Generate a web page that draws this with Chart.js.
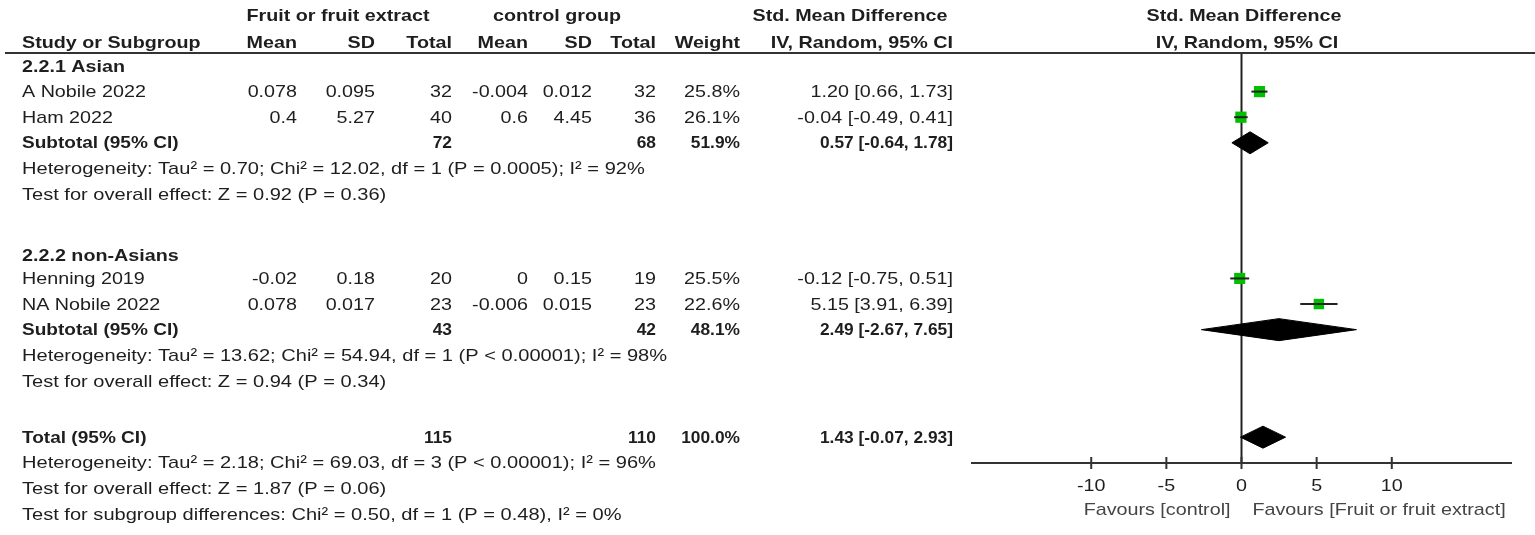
<!DOCTYPE html>
<html>
<head>
<meta charset="utf-8">
<script src="https://cdn.jsdelivr.net/npm/chart.js@4.4.1/dist/chart.umd.min.js"></script>
<style>
  html, body { margin: 0; padding: 0; background: #fff; }
  #forest { display: block; }
</style>
</head>
<body>
<canvas id="forest" width="1535" height="535"></canvas>
<script>
// study rows
const studyNames = ['A Nobile 2022', 'Ham 2022', 'Henning 2019', 'NA Nobile 2022'];
const expMean = ['0.078', '0.4', '-0.02', '0.078'];
const expSD = ['0.095', '5.27', '0.18', '0.017'];
const expTotal = [32, 40, 20, 23];
const ctlMean = ['-0.004', '0.6', '0', '-0.006'];
const ctlSD = ['0.012', '4.45', '0.15', '0.015'];
const ctlTotal = [32, 36, 19, 23];
const studyWeight = [25.8, 26.1, 25.5, 22.6];
const studySmd = [1.20, -0.04, -0.12, 5.15];
const studyLow = [0.66, -0.49, -0.75, 3.91];
const studyHigh = [1.73, 0.41, 0.51, 6.39];
const studyLine = [1, 2, 8.3, 9.3];

// pooled rows (two subgroups + overall)
const poolNames = ['Subtotal (95% CI)', 'Subtotal (95% CI)', 'Total (95% CI)'];
const poolExpTotal = [72, 43, 115];
const poolCtlTotal = [68, 42, 110];
const poolWeight = [51.9, 48.1, 100.0];
const poolSmd = [0.57, 2.49, 1.43];
const poolLow = [-0.64, -2.67, -0.07];
const poolHigh = [1.78, 7.65, 2.93];
const poolLine = [3, 10.3, 14.5];

const groupNames = ['2.2.1 Asian', '2.2.2 non-Asians'];
const groupLine = [0, 7.38];

const notes = [
    'Heterogeneity: Tau\u00b2 = 0.70; Chi\u00b2 = 12.02, df = 1 (P = 0.0005); I\u00b2 = 92%',
    'Test for overall effect: Z = 0.92 (P = 0.36)',
    'Heterogeneity: Tau\u00b2 = 13.62; Chi\u00b2 = 54.94, df = 1 (P < 0.00001); I\u00b2 = 98%',
    'Test for overall effect: Z = 0.94 (P = 0.34)',
    'Heterogeneity: Tau\u00b2 = 2.18; Chi\u00b2 = 69.03, df = 3 (P < 0.00001); I\u00b2 = 96%',
    'Test for overall effect: Z = 1.87 (P = 0.06)',
    'Test for subgroup differences: Chi\u00b2 = 0.50, df = 1 (P = 0.48), I\u00b2 = 0%',
];
const noteLine = [4, 5, 11.3, 12.3, 15.5, 16.5, 17.5];

const xTicks = [-10, -5, 0, 5, 10];
const favourLeft = 'Favours [control]';
const favourRight = 'Favours [Fruit or fruit extract]';

// column right edges for the table
const col = { name: 22, eMean: 297, eSD: 375, eTot: 452, cMean: 528, cSD: 592, cTot: 656, weight: 740, ci: 953 };
const FONT = '"Liberation Sans", Arial, sans-serif';
const INK = '#1e1e1e';
const TABLE = { size: 17, sx: 1.16 };   // source text is drawn a bit wide
const NOTE = { size: 17, sx: 1.18 };
const POOL_NAME = { size: 17, sx: 1.12 };
const POOL_NUM = { size: 17, sx: 1.02 };

const fmtCI = (m, lo, hi) => m.toFixed(2) + ' [' + lo.toFixed(2) + ', ' + hi.toFixed(2) + ']';

const datasets = [];

// confidence interval whiskers
studyNames.forEach((name, i) => {
    datasets.push({
        type: 'line',
        data: [{ x: studyLow[i], y: studyLine[i] }, { x: studyHigh[i], y: studyLine[i] }],
        borderColor: '#222',
        borderWidth: 2,
        pointRadius: 0,
        fill: false,
    });
});

// pooled diamonds
const diamondHalf = 0.43;
poolSmd.forEach((m, i) => {
    const L = poolLine[i];
    datasets.push({
        type: 'line',
        data: [
            { x: poolLow[i], y: L },
            { x: m, y: L - diamondHalf },
            { x: poolHigh[i], y: L },
            { x: m, y: L + diamondHalf },
            { x: poolLow[i], y: L },
        ],
        borderColor: '#000',
        borderWidth: 1,
        backgroundColor: '#000',
        pointRadius: 0,
        fill: 'shape',
        tension: 0,
    });
});

// weighted squares
datasets.push({
    type: 'scatter',
    data: studySmd.map((m, i) => ({ x: m, y: studyLine[i] })),
    pointStyle: 'rect',
    pointRadius: studyWeight.map(w => 1.1 * Math.sqrt(2 * w)),
    backgroundColor: '#00c000',
    borderWidth: 0,
});

const tablePlugin = {
    id: 'tablePlugin',
    beforeDatasetsDraw(chart) {
        const { ctx, chartArea, scales } = chart;
        const x0 = scales.x.getPixelForValue(0);
        ctx.save();
        ctx.strokeStyle = '#222';
        ctx.lineWidth = 2;
        ctx.beginPath();
        ctx.moveTo(x0, chartArea.top);
        ctx.lineTo(x0, chartArea.bottom);
        ctx.stroke();
        ctx.restore();
    },
    afterDraw(chart) {
        const { ctx, chartArea, scales } = chart;
        const y = v => scales.y.getPixelForValue(v) + 1;
        const text = (s, x, yy, align, bold, style, color) => {
            const st = style || TABLE;
            ctx.save();
            ctx.font = (bold ? 'bold ' : '') + st.size + 'px ' + FONT;
            ctx.textAlign = align;
            ctx.textBaseline = 'middle';
            ctx.fillStyle = color || INK;
            ctx.translate(x, yy);
            ctx.scale(st.sx, 1);
            ctx.fillText(s, 0, 0);
            ctx.restore();
        };
        ctx.save();

        // header rule
        ctx.strokeStyle = '#333';
        ctx.lineWidth = 2;
        ctx.beginPath();
        ctx.moveTo(5, chartArea.top);
        ctx.lineTo(1535, chartArea.top);
        ctx.stroke();

        // x axis
        const xa = scales.x;
        const yb = chartArea.bottom;
        ctx.beginPath();
        ctx.moveTo(xa.getPixelForValue(xa.min), yb);
        ctx.lineTo(xa.getPixelForValue(xa.max), yb);
        xTicks.forEach(t => {
            const px = xa.getPixelForValue(t);
            ctx.moveTo(px, yb - 6);
            ctx.lineTo(px, yb + 6);
        });
        ctx.stroke();
        xTicks.forEach(t => text(String(t), xa.getPixelForValue(t), yb + 23, 'center', false));
        const x0 = xa.getPixelForValue(0);
        text(favourLeft, x0 - 11, yb + 47, 'right', false, TABLE, '#444');
        text(favourRight, x0 + 11, yb + 47, 'left', false, TABLE, '#444');

        // headers
        const h1 = y(-1.99), h2 = y(-0.94);
        text('Fruit or fruit extract', 338, h1, 'center', true);
        text('control group', 557, h1, 'center', true);
        text('Std. Mean Difference', 850, h1, 'center', true);
        text('Std. Mean Difference', 1244, h1, 'center', true);
        text('Study or Subgroup', col.name, h2, 'left', true);
        text('Mean', col.eMean, h2, 'right', true);
        text('SD', col.eSD, h2, 'right', true);
        text('Total', col.eTot, h2, 'right', true);
        text('Mean', col.cMean, h2, 'right', true);
        text('SD', col.cSD, h2, 'right', true);
        text('Total', col.cTot, h2, 'right', true);
        text('Weight', col.weight, h2, 'right', true);
        text('IV, Random, 95% CI', col.ci, h2, 'right', true);
        text('IV, Random, 95% CI', 1247, h2, 'center', true);

        groupNames.forEach((g, i) => text(g, col.name, y(groupLine[i]), 'left', true));

        studyNames.forEach((n, i) => {
            const yy = y(studyLine[i]);
            text(n, col.name, yy, 'left');
            text(expMean[i], col.eMean, yy, 'right');
            text(expSD[i], col.eSD, yy, 'right');
            text(String(expTotal[i]), col.eTot, yy, 'right');
            text(ctlMean[i], col.cMean, yy, 'right');
            text(ctlSD[i], col.cSD, yy, 'right');
            text(String(ctlTotal[i]), col.cTot, yy, 'right');
            text(studyWeight[i].toFixed(1) + '%', col.weight, yy, 'right');
            text(fmtCI(studySmd[i], studyLow[i], studyHigh[i]), col.ci, yy, 'right');
        });

        poolNames.forEach((n, i) => {
            const yy = y(poolLine[i]);
            text(n, col.name, yy, 'left', true, POOL_NAME);
            text(String(poolExpTotal[i]), col.eTot, yy, 'right', true, POOL_NUM);
            text(String(poolCtlTotal[i]), col.cTot, yy, 'right', true, POOL_NUM);
            text(poolWeight[i].toFixed(1) + '%', col.weight, yy, 'right', true, POOL_NUM);
            text(fmtCI(poolSmd[i], poolLow[i], poolHigh[i]), col.ci, yy, 'right', true, POOL_NUM);
        });

        notes.forEach((s, i) => text(s, col.name, y(noteLine[i]), 'left', false, NOTE));
        ctx.restore();
    },
};

new Chart(document.getElementById('forest'), {
    type: 'scatter',
    data: { datasets },
    options: {
        responsive: false,
        animation: false,
        layout: { padding: { left: 971, right: 23, top: 53, bottom: 72 } },
        plugins: { legend: { display: false }, tooltip: { enabled: false } },
        scales: {
            x: { type: 'linear', min: -18, max: 18, display: false },
            y: { type: 'linear', min: -0.508, max: 15.51, reverse: true, display: false },
        },
    },
    plugins: [tablePlugin],
});
</script>
</body>
</html>
